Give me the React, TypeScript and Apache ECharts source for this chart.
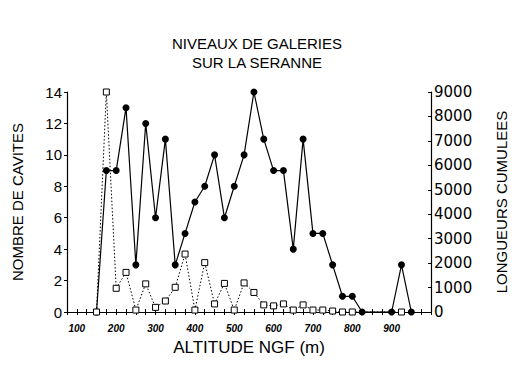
import React, { useEffect, useRef } from "react";
import * as echarts from "echarts";

const altitudes = [150, 175, 200, 225, 250, 275, 300, 325, 350, 375, 400, 425, 450, 475, 500, 525, 550, 575, 600, 625, 650, 675, 700, 725, 750, 775, 800, 825, 900, 925, 950];
const nombreCavites = [0, 9, 9, 13, 3, 12, 6, 11, 3, 5, 7, 8, 10, 6, 8, 10, 14, 11, 9, 9, 4, 11, 5, 5, 3, 1, 1, 0, 0, 3, 0];
const longueursCumulees = [0, 9000, 970, 1620, 80, 1150, 190, 450, 1010, 2370, 80, 2020, 330, 1170, 80, 1190, 800, 290, 250, 330, 80, 290, 80, 80, 40, 0, 0, null, null, 0, null];
const xTickLabels = [100, 200, 300, 400, 500, 600, 700, 800, 900];
const titleLines = ["NIVEAUX DE GALERIES", "SUR LA SERANNE"];

const FONT = "'Liberation Sans', Arial, sans-serif";

export default function App() {
  const ref = useRef<HTMLDivElement>(null);
  useEffect(() => {
    document.body.style.margin = "0";
    const chart = echarts.init(ref.current!, null, { renderer: "svg" });
    const cavData = altitudes.map((a, i) => [a, nombreCavites[i]]);
    const lonData = altitudes
      .map((a, i) => [a, longueursCumulees[i]])
      .filter((p) => p[1] !== null);
    const baseX = {
      type: "value" as const,
      min: 75,
      max: 1000,
      interval: 25,
      splitLine: { show: false },
    };
    chart.setOption({
      animation: false,
      backgroundColor: "#fff",
      textStyle: { fontFamily: FONT, color: "#000" },
      grid: { left: 67, right: 94, top: 92, bottom: 65 },
      graphic: titleLines.map((t, i) => ({
        type: "text",
        x: 257,
        y: 43 + i * 19.5,
        style: {
          text: t,
          font: `15px ${FONT}`,
          fill: "#000",
          textAlign: "center",
          textVerticalAlign: "middle",
        },
      })),
      xAxis: [
        {
          ...baseX,
          position: "bottom",
          name: "ALTITUDE NGF (m)",
          nameLocation: "middle",
          nameGap: 27,
          nameTextStyle: { fontSize: 17, fontFamily: FONT, color: "#000" },
          axisLine: { lineStyle: { color: "#000", width: 1.2 } },
          axisTick: { show: true, length: 3, lineStyle: { color: "#000" } },
          axisLabel: {
            margin: 11,
            fontSize: 10,
            fontStyle: "italic",
            fontWeight: "bold",
            color: "#000",
            formatter: (v: number) => (xTickLabels.indexOf(v) >= 0 ? String(v) : ""),
          },
        },
        {
          ...baseX,
          position: "top",
          offset: -220,
          axisLine: { show: false },
          axisTick: { show: true, length: 3, lineStyle: { color: "#000" } },
          axisLabel: { show: false },
        },
      ],
      yAxis: [
        {
          type: "value",
          min: 0,
          max: 14,
          interval: 2,
          position: "left",
          name: "NOMBRE DE CAVITES",
          nameLocation: "middle",
          nameRotate: 90,
          nameGap: 42,
          nameTextStyle: { fontSize: 15, fontFamily: FONT, color: "#000" },
          splitLine: { show: false },
          axisLine: { show: true, onZero: false, lineStyle: { color: "#000", width: 1.2 } },
          axisTick: { show: true, length: 3, lineStyle: { color: "#000" } },
          axisLabel: { margin: 5, fontSize: 15, color: "#000", fontFamily: FONT },
        },
        {
          type: "value",
          min: 0,
          max: 9000,
          interval: 1000,
          position: "right",
          name: "LONGUEURS CUMULEES",
          nameLocation: "middle",
          nameRotate: 90,
          nameGap: 63,
          nameTextStyle: { fontSize: 15, fontFamily: FONT, color: "#000" },
          splitLine: { show: false },
          axisLine: { show: true, onZero: false, lineStyle: { color: "#000", width: 1.2 } },
          axisTick: { show: true, inside: true, length: 3, lineStyle: { color: "#000" } },
          axisLabel: {
            margin: 3,
            fontSize: 15,
            color: "#000",
            fontFamily: "'DejaVu Sans', sans-serif",
            formatter: (v: number) => String(v),
          },
        },
      ],
      series: [
        {
          name: "NOMBRE DE CAVITES",
          type: "line",
          xAxisIndex: 0,
          yAxisIndex: 0,
          data: cavData,
          symbol: "circle",
          symbolSize: 7,
          itemStyle: { color: "#000" },
          lineStyle: { color: "#000", width: 1.2 },
          clip: false,
          z: 3,
        },
        {
          name: "LONGUEURS CUMULEES",
          type: "line",
          xAxisIndex: 0,
          yAxisIndex: 1,
          data: lonData,
          symbol: "rect",
          symbolSize: 6,
          itemStyle: { color: "#fff", borderColor: "#000", borderWidth: 1 },
          lineStyle: { color: "#000", width: 1, type: [1.5, 2] },
          clip: false,
          z: 4,
        },
      ],
    });
    return () => chart.dispose();
  }, []);
  return (
    <div
      ref={ref}
      style={{ position: "absolute", left: 0, top: 0, width: 525, height: 377 }}
    />
  );
}
